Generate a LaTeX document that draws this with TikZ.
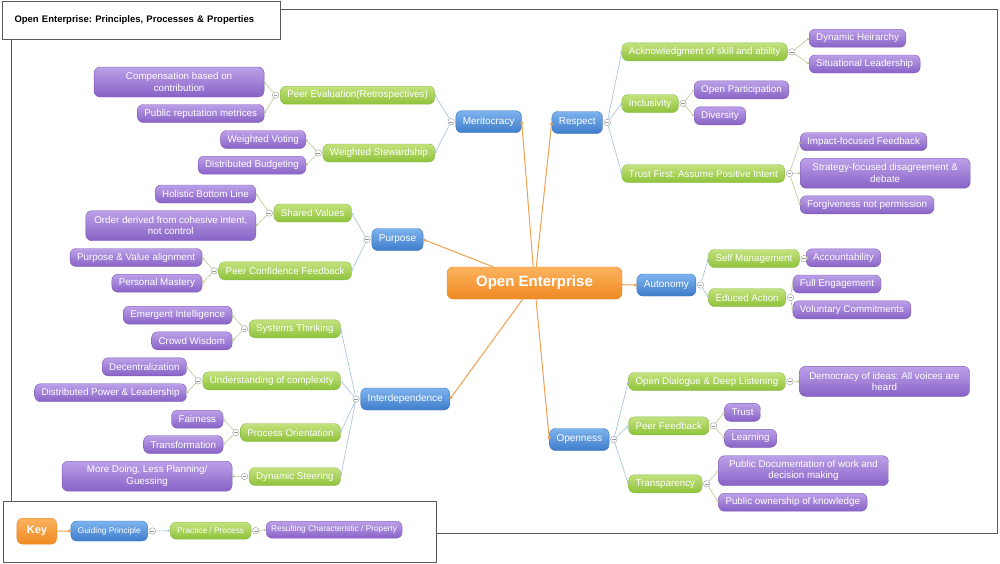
\documentclass[tikz,border=0pt]{standalone}
\usepackage{fontspec}
\setmainfont{Liberation Sans}
\usepackage{tikz}
\usetikzlibrary{arrows.meta,positioning}
\frenchspacing

\definecolor{prinTop}{HTML}{7DB3EE}
\definecolor{prinBot}{HTML}{3F7DCB}
\definecolor{prinLine}{HTML}{3C72B8}
\definecolor{pracTop}{HTML}{C4E27E}
\definecolor{pracBot}{HTML}{8EC23A}
\definecolor{pracLine}{HTML}{8AB94C}
\definecolor{propTop}{HTML}{BCA0E8}
\definecolor{propBot}{HTML}{8862C6}
\definecolor{propLine}{HTML}{7C5AB6}
\definecolor{coreTop}{HTML}{FBB25E}
\definecolor{coreBot}{HTML}{F08A22}
\definecolor{coreLine}{HTML}{E8892C}
\definecolor{wireBlue}{HTML}{A3BEDC}
\definecolor{wireGreen}{HTML}{BCC98F}
\definecolor{wireOrange}{HTML}{F0A04E}
\definecolor{frameGray}{HTML}{5A5A5A}

\tikzset{
  box/.style={rounded corners=6pt, text=white, inner xsep=7pt, inner ysep=2pt, minimum height=18pt, font=\fontsize{9.8}{11.5}\selectfont},
  core/.style={box, top color=coreTop, bottom color=coreBot, draw=coreLine, minimum width=175pt, minimum height=32pt, font=\bfseries\fontsize{15}{18}\selectfont},
  prin/.style={box, top color=prinTop, bottom color=prinBot, draw=prinLine, minimum height=22pt, font=\fontsize{10}{12}\selectfont},
  prac/.style={box, top color=pracTop, bottom color=pracBot, draw=pracLine},
  prop/.style={box, top color=propTop, bottom color=propBot, draw=propLine},
  twoline/.style={minimum width=170pt, minimum height=30pt, align=center},
  toleft/.style={anchor=east},
  toright/.style={anchor=west},
  fold/.style={circle, draw=gray!80, fill=white, inner sep=0pt, minimum size=6.5pt,
    path picture={\draw[gray!80, line width=0.4pt] ([xshift=1.4pt]path picture bounding box.west) -- ([xshift=-1.4pt]path picture bounding box.east);}},
  spoke/.style={color=wireOrange, line width=1pt, -{Circle[open,length=3pt]}},
  twig/.style={color=wireBlue, line width=0.6pt, -{Circle[open,length=2.4pt]}},
  leaf/.style={color=wireGreen, line width=0.6pt, -{Circle[open,length=2.4pt]}},
  keyfont/.style={font=\fontsize{8.3}{10}\selectfont},
  frame/.style={draw=frameGray, line width=1pt},
  titlebox/.style={frame, fill=white, anchor=north west, minimum width=278pt, minimum height=38pt, text width=254pt, inner xsep=12pt, align=left, font=\bfseries\fontsize{9.5}{11}\selectfont}
}

\begin{document}
\begin{tikzpicture}[x=1pt,y=-1pt]
  \useasboundingbox (0,0) rectangle (1000,563);
  \draw[frame] (11,9) rectangle (997,533);

  % centre and principles
  \draw (534.5,283) node[core] (oe) {Open Enterprise};
  \draw (521.7,121.7) node[prin,toleft] (meri) {Meritocracy};
  \draw (423.3,239.5) node[prin,toleft] (purp) {Purpose};
  \draw (450,399) node[prin,toleft] (inter) {Interdependence};
  \draw (551.7,122.5) node[prin,toright] (resp) {Respect};
  \draw (636.7,285) node[prin,toright] (auto) {Autonomy};
  \draw (549.3,439.5) node[prin,toright] (open) {Openness};

  % meritocracy
  \draw (435,95.2) node[prac,toleft] (pe) {Peer Evaluation(Retrospectives)};
  \draw (435,153) node[prac,toleft] (ws) {Weighted Stewardship};
  \draw (264.3,82) node[prop,twoline,toleft] (comp) {Compensation based on\\contribution};
  \draw (264.3,113.5) node[prop,toleft] (prm) {Public reputation metrices};
  \draw (306,139.5) node[prop,toleft] (wv) {Weighted Voting};
  \draw (306,165.2) node[prop,toleft] (db) {Distributed Budgeting};

  % purpose
  \draw (351.7,213) node[prac,toleft] (sv) {Shared Values};
  \draw (351.7,270.8) node[prac,toleft] (pcf) {Peer Confidence Feedback};
  \draw (256,194) node[prop,toleft] (hbl) {Holistic Bottom Line};
  \draw (256,225.7) node[prop,twoline,toleft] (odc) {Order derived from cohesive intent,\\not control};
  \draw (202.3,257.5) node[prop,toleft] (pva) {Purpose \& Value alignment};
  \draw (202.3,283.2) node[prop,toleft] (pm) {Personal Mastery};

  % interdependence
  \draw (340.7,328.8) node[prac,toleft] (st) {Systems Thinking};
  \draw (340.7,380.8) node[prac,toleft] (uc) {Understanding of complexity};
  \draw (340.7,432.5) node[prac,toleft] (po) {Process Orientation};
  \draw (340.7,476.5) node[prac,toleft] (ds) {Dynamic Steering};
  \draw (232.3,315.2) node[prop,toleft] (ei) {Emergent Intelligence};
  \draw (232.3,340.8) node[prop,toleft] (cw) {Crowd Wisdom};
  \draw (186.7,366.8) node[prop,toleft] (dec) {Decentralization};
  \draw (186.7,392.7) node[prop,toleft] (dpl) {Distributed Power \& Leadership};
  \draw (223.3,419.2) node[prop,toleft] (fair) {Fairness};
  \draw (223.3,444.5) node[prop,toleft] (trans) {Transformation};
  \draw (232.3,476.2) node[prop,twoline,toleft] (mdl) {More Doing, Less Planning/\\Guessing};

  % respect
  \draw (621.7,51.8) node[prac,toright] (ack) {Acknowledgment of skill and ability};
  \draw (621.7,103.5) node[prac,toright] (incl) {Inclusivity};
  \draw (621.7,173.5) node[prac,toright] (tf) {Trust First: Assume Positive Intent};
  \draw (809,38.2) node[prop,toright] (dh) {Dynamic Heirarchy};
  \draw (809,64) node[prop,toright] (sl) {Situational Leadership};
  \draw (694,89.8) node[prop,toright] (opp) {Open Participation};
  \draw (694,115.8) node[prop,toright] (div) {Diversity};
  \draw (800,141.7) node[prop,toright] (ifb) {Impact-focused Feedback};
  \draw (800,173.2) node[prop,twoline,toright] (sfd) {Strategy-focused disagreement \&\\debate};
  \draw (800,204.8) node[prop,toright] (fnp) {Forgiveness not permission};

  % autonomy
  \draw (708.3,258.5) node[prac,toright] (sm) {Self Management};
  \draw (708.3,297.5) node[prac,toright] (ea) {Educed Action};
  \draw (806,257.8) node[prop,toright] (acc) {Accountability};
  \draw (792.7,284) node[prop,toright] (fe) {Full Engagement};
  \draw (792.7,309.8) node[prop,toright] (vc) {Voluntary Commitments};

  % openness
  \draw (628.3,381.5) node[prac,toright] (odl) {Open Dialogue \& Deep Listening};
  \draw (628.3,425.8) node[prac,toright] (pf) {Peer Feedback};
  \draw (628.3,483.8) node[prac,toright] (tr) {Transparency};
  \draw (799.3,381.3) node[prop,twoline,toright] (doi) {Democracy of ideas: All voices are\\heard};
  \draw (724.3,412.3) node[prop,toright] (trust) {Trust};
  \draw (724.3,438.3) node[prop,toright] (learn) {Learning};
  \draw (718.3,470.7) node[prop,twoline,toright] (pdw) {Public Documentation of work and\\decision making};
  \draw (718.3,502.2) node[prop,toright] (pok) {Public ownership of knowledge};

  % fold markers
  \node[fold,left=1pt of meri] (meri-f) {};
  \node[fold,left=1pt of purp] (purp-f) {};
  \node[fold,left=1pt of inter] (inter-f) {};
  \node[fold,right=1pt of resp] (resp-f) {};
  \node[fold,right=1pt of auto] (auto-f) {};
  \node[fold,right=1pt of open] (open-f) {};
  \node[fold,left=1pt of pe] (pe-f) {};
  \node[fold,left=1pt of ws] (ws-f) {};
  \node[fold,left=1pt of sv] (sv-f) {};
  \node[fold,left=1pt of pcf] (pcf-f) {};
  \node[fold,left=1pt of st] (st-f) {};
  \node[fold,left=1pt of uc] (uc-f) {};
  \node[fold,left=1pt of po] (po-f) {};
  \node[fold,left=1pt of ds] (ds-f) {};
  \node[fold,right=1pt of ack] (ack-f) {};
  \node[fold,right=1pt of incl] (incl-f) {};
  \node[fold,right=1pt of tf] (tf-f) {};
  \node[fold,right=1pt of sm] (sm-f) {};
  \node[fold,right=1pt of ea] (ea-f) {};
  \node[fold,right=1pt of odl] (odl-f) {};
  \node[fold,right=1pt of pf] (pf-f) {};
  \node[fold,right=1pt of tr] (tr-f) {};

  % spokes
  \path[spoke] (oe) edge (meri.east) (oe) edge (purp.east) (oe) edge (inter.east)
    (oe) edge (resp.west) (oe) edge (auto.west) (oe) edge (open.west);

  % principle to practice
  \path[twig] (meri-f) edge (pe.east) (meri-f) edge (ws.east);
  \path[twig] (purp-f) edge (sv.east) (purp-f) edge (pcf.east);
  \path[twig] (inter-f) edge (st.east) (inter-f) edge (uc.east) (inter-f) edge (po.east) (inter-f) edge (ds.east);
  \path[twig] (resp-f) edge (ack.west) (resp-f) edge (incl.west) (resp-f) edge (tf.west);
  \path[twig] (auto-f) edge (sm.west) (auto-f) edge (ea.west);
  \path[twig] (open-f) edge (odl.west) (open-f) edge (pf.west) (open-f) edge (tr.west);

  % practice to property
  \path[leaf] (pe-f) edge (comp.east) (pe-f) edge (prm.east);
  \path[leaf] (ws-f) edge (wv.east) (ws-f) edge (db.east);
  \path[leaf] (sv-f) edge (hbl.east) (sv-f) edge (odc.east);
  \path[leaf] (pcf-f) edge (pva.east) (pcf-f) edge (pm.east);
  \path[leaf] (st-f) edge (ei.east) (st-f) edge (cw.east);
  \path[leaf] (uc-f) edge (dec.east) (uc-f) edge (dpl.east);
  \path[leaf] (po-f) edge (fair.east) (po-f) edge (trans.east);
  \path[leaf] (ds-f) edge (mdl.east);
  \path[leaf] (ack-f) edge (dh.west) (ack-f) edge (sl.west);
  \path[leaf] (incl-f) edge (opp.west) (incl-f) edge (div.west);
  \path[leaf] (tf-f) edge (ifb.west) (tf-f) edge (sfd.west) (tf-f) edge (fnp.west);
  \path[leaf] (sm-f) edge (acc.west);
  \path[leaf] (ea-f) edge (fe.west) (ea-f) edge (vc.west);
  \path[leaf] (odl-f) edge (doi.west);
  \path[leaf] (pf-f) edge (trust.west) (pf-f) edge (learn.west);
  \path[leaf] (tr-f) edge (pdw.west) (tr-f) edge (pok.west);

  % title and key
  \node[titlebox] (title) at (2,1) {Open Enterprise: Principles, Processes \& Properties};
  \draw[frame,fill=white] (3,501) rectangle (436,562);
  \draw (16.7,531.2) node[core,toright,minimum width=40pt,minimum height=26pt,inner xsep=4pt,font=\bfseries\fontsize{11}{13}\selectfont] (key) {Key};
  \draw (70.7,531) node[prin,keyfont,toright,minimum height=20pt] (kgp) {Guiding Principle};
  \draw (170,530.7) node[prac,keyfont,toright,minimum height=17pt] (kpp) {Practice / Process};
  \draw (266,529.7) node[prop,keyfont,toright,minimum height=17pt,inner xsep=5pt] (krc) {Resulting Characteristic / Property};
  \node[fold,right=1pt of kgp] (kgp-f) {};
  \node[fold,right=1pt of kpp] (kpp-f) {};
  \path[spoke] (key) edge (kgp.west);
  \path[twig] (kgp-f) edge (kpp.west);
  \path[leaf] (kpp-f) edge (krc.west);
\end{tikzpicture}
\end{document}
